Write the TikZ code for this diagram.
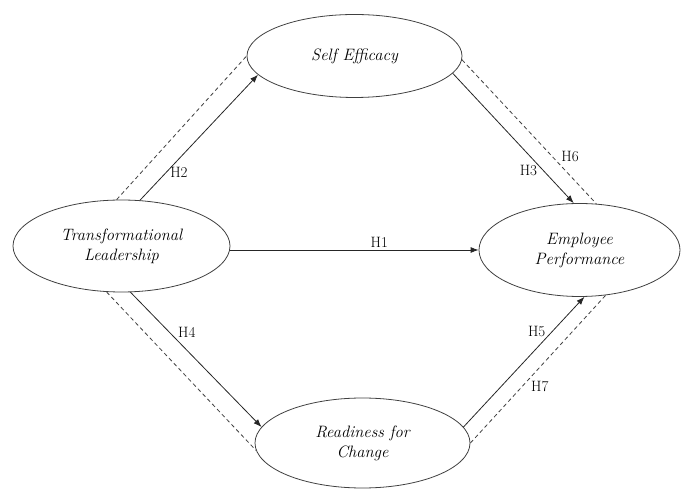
\documentclass[tikz,border=0pt]{standalone}
\usepackage{tikz}
\usetikzlibrary{arrows.meta,shapes.geometric}
\tikzset{
  construct/.style={ellipse,draw=black!75,line width=.8pt,inner sep=0pt,
    align=center,font=\fontsize{16.5}{20}\selectfont\itshape},
  direct path/.style={draw=black!85,line width=.8pt,-{Latex[length=8pt,width=6pt]}},
  mediated path/.style={draw=black!75,line width=.8pt,dash pattern=on 4pt off 3pt},
  hyp label/.style={font=\fontsize{15}{17}\selectfont,inner sep=1pt}
}

\begin{document}
\begin{tikzpicture}[x=1pt,y=1pt]
  \useasboundingbox (0,0) rectangle (684,489);

  \node[construct,minimum width=217pt,minimum height=92pt] (tl) at (121.5,243)
       {Transformational\\Leadership};
  \node[construct,minimum width=215pt,minimum height=83pt] (se) at (354.5,433)
       {Self Efficacy};
  \node[construct,minimum width=201pt,minimum height=93pt] (ep) at (579.5,239)
       {Employee\\Performance};
  \node[construct,minimum width=215pt,minimum height=90pt] (rc) at (362.5,46)
       {Readiness for\\Change};

  % direct effects
  \draw[direct path] (tl.east |- ep.west) -- node[hyp label,pos=.6,above=1pt] {H1} (ep.west);
  \draw[direct path] (tl.68) -- node[hyp label,pos=.22,right=3pt] {H2} (se.191);
  \draw[direct path] (se.-10) -- node[hyp label,pos=.75,left=5pt] {H3} (ep.97);
  \draw[direct path] (tl.281) -- node[hyp label,pos=.3,right=7pt] {H4} (rc.171);
  \draw[direct path] (rc.9) -- node[hyp label,pos=.73,left=5pt] {H5} (ep.276);

  % mediated effects
  \draw[mediated path] (tl.96) -- (se.180);
  \draw[mediated path] (se.-2) -- node[hyp label,pos=.67,right=8pt] {H6} (ep.70);
  \draw[mediated path] (tl.252) -- (rc.184);
  \draw[mediated path] (rc.0) -- node[hyp label,pos=.38,right=8pt] {H7} (ep.300);
\end{tikzpicture}
\end{document}
